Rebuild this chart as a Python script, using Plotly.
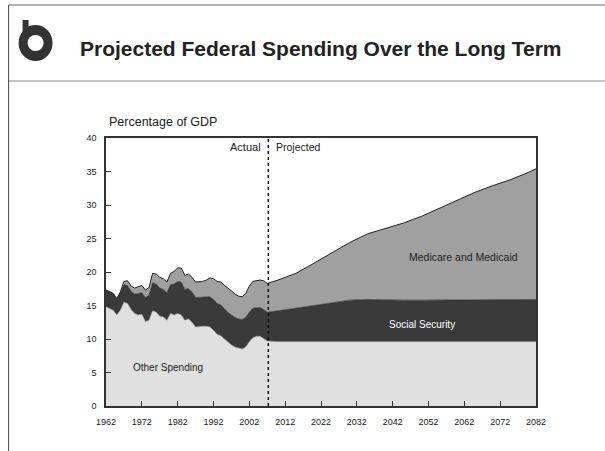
import plotly.graph_objects as go

# ---- data (percentage of GDP) ----
actual_years = list(range(1962, 2008))
other_actual = [14.8, 14.5, 14.3, 13.6, 14.3, 15.5, 15.3, 14.4, 13.8, 13.6, 13.7, 12.6, 12.8, 14.2, 14.0, 13.4,
                13.3, 12.8, 13.8, 13.6, 13.8, 13.6, 12.8, 13.0, 12.5, 11.8, 11.9, 11.9, 11.9, 11.8, 11.3, 10.7,
                10.5, 10.0, 9.5, 9.1, 8.8, 8.6, 8.5, 8.8, 9.6, 10.2, 10.4, 10.4, 10.1, 9.7]
ss_actual = [2.5, 2.5, 2.5, 2.4, 2.6, 2.6, 2.7, 2.7, 2.9, 3.2, 3.2, 3.6, 3.7, 4.2, 4.2, 4.2,
             4.1, 4.1, 4.3, 4.6, 4.8, 4.9, 4.6, 4.5, 4.5, 4.4, 4.3, 4.3, 4.4, 4.5, 4.6, 4.6,
             4.6, 4.5, 4.5, 4.5, 4.4, 4.4, 4.4, 4.4, 4.4, 4.4, 4.3, 4.3, 4.3, 4.3]
med_actual = [0.0, 0.0, 0.0, 0.0, 0.1, 0.5, 0.7, 0.8, 0.9, 1.0, 1.1, 1.1, 1.2, 1.4, 1.5, 1.6,
              1.6, 1.6, 1.7, 1.9, 2.0, 2.1, 2.1, 2.2, 2.2, 2.3, 2.3, 2.4, 2.5, 2.8, 3.1, 3.3,
              3.4, 3.5, 3.6, 3.6, 3.5, 3.4, 3.4, 3.6, 3.9, 4.0, 4.0, 4.1, 4.3, 4.3]

proj_years = [2010, 2015, 2020, 2025, 2030, 2035, 2040, 2045, 2050, 2055, 2060, 2065, 2070, 2075, 2080, 2082]
other_proj = [9.6] * 16
ss_proj = [4.6, 5.0, 5.4, 5.8, 6.2, 6.3, 6.2, 6.2, 6.2, 6.2, 6.3, 6.3, 6.3, 6.3, 6.3, 6.3]
med_proj = [4.6, 5.2, 6.3, 7.4, 8.6, 9.8, 10.7, 11.5, 12.5, 13.7, 14.9, 16.0, 17.0, 17.9, 19.0, 19.5]

years = actual_years + proj_years
other = other_actual + other_proj
social_security = ss_actual + ss_proj
medicare_medicaid = med_actual + med_proj

x_ticks = list(range(1962, 2083, 10))
y_ticks = list(range(0, 41, 5))
split_year = 2007.3

FONT = "Liberation Sans, Arial, sans-serif"

fig = go.Figure()
fig.add_trace(go.Scatter(x=years, y=other, stackgroup="s", mode="lines",
                         line=dict(color="#9a9a9a", width=0.6), fillcolor="#e0e0e0",
                         name="Other Spending"))
fig.add_trace(go.Scatter(x=years, y=social_security, stackgroup="s", mode="lines",
                         line=dict(color="#222", width=0.6), fillcolor="#3a3a3a",
                         name="Social Security"))
fig.add_trace(go.Scatter(x=years, y=medicare_medicaid, stackgroup="s", mode="lines",
                         line=dict(color="#222", width=1), fillcolor="#a0a0a0",
                         name="Medicare and Medicaid"))

L, R, T, B = 105.5, 536, 138, 406
W, H = 605, 451


def px(xp):
    return (xp - L) / (R - L)


def py(yp):
    return (B - yp) / (B - T)


shapes = [
    dict(type="line", xref="paper", yref="paper", x0=px(8), x1=px(605), y0=py(5), y1=py(5),
         line=dict(color="#666", width=1)),
    dict(type="line", xref="paper", yref="paper", x0=px(8), x1=px(605), y0=py(81), y1=py(81),
         line=dict(color="#888", width=1)),
    dict(type="line", xref="paper", yref="paper", x0=px(8), x1=px(8), y0=py(5), y1=py(451),
         line=dict(color="#444", width=1)),
    dict(type="line", xref="x", yref="y", x0=split_year, x1=split_year, y0=0, y1=40,
         line=dict(color="#111", width=1.5, dash="dot")),
    # logo
    dict(type="rect", xref="paper", yref="paper", x0=px(22), x1=px(28), y0=py(20), y1=py(34),
         fillcolor="#333", line=dict(width=0)),
    dict(type="circle", xref="paper", yref="paper", x0=px(18), x1=px(52), y0=py(25), y1=py(61),
         fillcolor="#333", line=dict(width=0)),
    dict(type="circle", xref="paper", yref="paper", x0=px(27), x1=px(43), y0=py(35), y1=py(51),
         fillcolor="white", line=dict(width=0)),
]

annotations = [
    dict(xref="paper", yref="paper", x=px(77), y=py(48), xanchor="left", yanchor="middle",
         text="<b>Projected Federal Spending Over the Long Term</b>", showarrow=False,
         font=dict(family=FONT, size=21, color="#222")),
    dict(xref="paper", yref="paper", x=px(107), y=py(122), xanchor="left", yanchor="middle",
         text="Percentage of GDP", showarrow=False, font=dict(family=FONT, size=12.5, color="#222")),
    dict(x=2005.8, y=38.7, xanchor="right", yanchor="middle", text="Actual", showarrow=False,
         font=dict(family=FONT, size=11, color="#222")),
    dict(x=2009.0, y=38.7, xanchor="left", yanchor="middle", text="Projected", showarrow=False,
         font=dict(family=FONT, size=10.5, color="#222")),
    dict(x=1979.4, y=5.8, text="Other Spending", showarrow=False,
         font=dict(family=FONT, size=10, color="#222")),
    dict(x=2050.2, y=12.2, text="Social Security", showarrow=False,
         font=dict(family=FONT, size=10, color="white")),
    dict(x=2061.7, y=22.3, text="Medicare and Medicaid", showarrow=False,
         font=dict(family=FONT, size=10.5, color="#222")),
]

fig.update_layout(
    width=W, height=H,
    margin=dict(l=L, r=W - R, t=T, b=H - B, pad=0),
    paper_bgcolor="white", plot_bgcolor="white",
    showlegend=False,
    shapes=shapes, annotations=annotations,
    font=dict(family=FONT, size=9, color="#222"),
)
fig.update_xaxes(range=[1962, 2082], tickvals=x_ticks, ticks="inside", ticklen=5, tickcolor="#333",
                 showline=True, mirror=True, linecolor="#333", linewidth=1.5, showgrid=False,
                 zeroline=False, ticklabelstandoff=6, tickfont=dict(size=9))
fig.update_yaxes(range=[0, 40], tickvals=y_ticks, ticks="inside", ticklen=5, tickcolor="#333",
                 showline=True, mirror=True, linecolor="#333", linewidth=1.5, showgrid=False,
                 zeroline=False, ticklabelstandoff=6, tickfont=dict(size=9))

fig.write_html("out.html")
